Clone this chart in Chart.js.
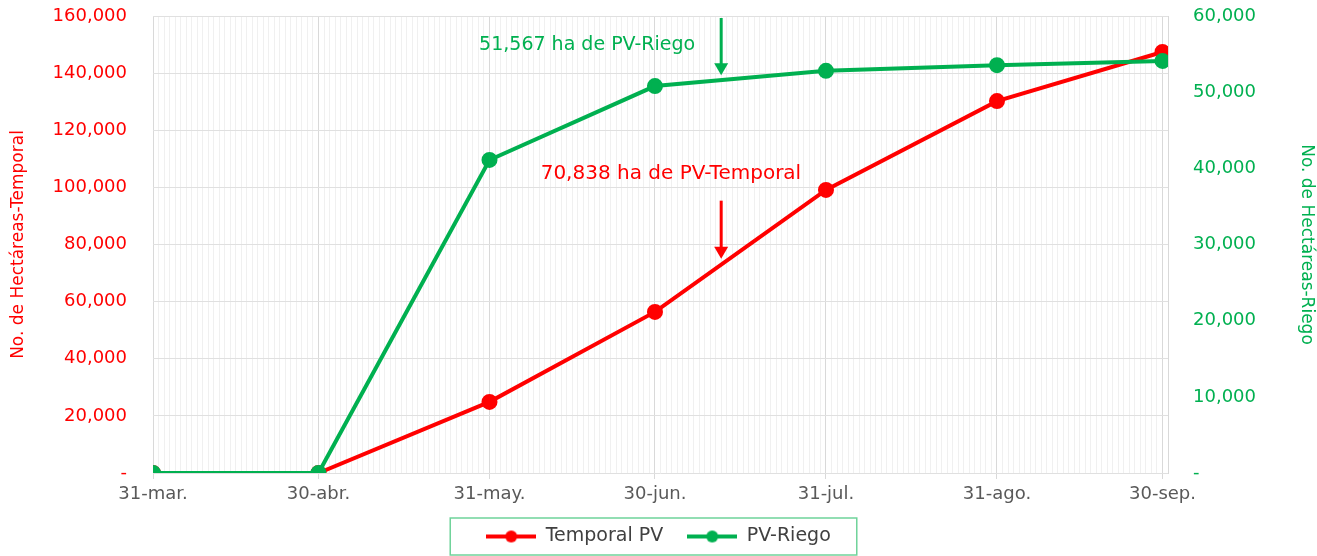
<!DOCTYPE html>
<html>
<head>
<meta charset="utf-8">
<script src="https://cdn.jsdelivr.net/npm/chart.js@4"></script>
<style>
  html, body { margin: 0; padding: 0; background: #fff; }
  #wrap { width: 1317px; height: 556px; }
</style>
</head>
<body>
<div id="wrap"><canvas id="chart"></canvas></div>
<script>
// fechas de corte (dias desde 31-mar)
var categories = ['31-mar.', '30-abr.', '31-may.', '30-jun.', '31-jul.', '31-ago.', '30-sep.'];
var categoryDays = [0, 30, 61, 91, 122, 153, 183];
var temporalPV = [0, 0, 24900, 56400, 99100, 130200, 147400];
var pvRiego = [0, 0, 41100, 50800, 52800, 53550, 54100];
var leftTicks = [0, 20000, 40000, 60000, 80000, 100000, 120000, 140000, 160000];
var rightTicks = [0, 10000, 20000, 30000, 40000, 50000, 60000];
var lastDay = 184;

// anotaciones: texto, dia, valor
var noteRiego = { text: '51,567 ha de PV-Riego', day: 103, value: 51567 };
var noteTemporal = { text: '70,838 ha de PV-Temporal', day: 103, value: 70838 };

var RED = '#ff0000';
var GREEN = '#00b050';
var FONT = "'DejaVu Sans', sans-serif";

function fmt(v) {
    return v === 0 ? '-' : v.toLocaleString('en-US');
}

function markerImage(color) {
    var c = document.createElement('canvas');
    c.width = 50; c.height = 14;
    var g = c.getContext('2d');
    g.strokeStyle = color; g.lineWidth = 4;
    g.beginPath(); g.moveTo(0, 7); g.lineTo(50, 7); g.stroke();
    g.fillStyle = color;
    g.beginPath(); g.arc(25, 7, 6, 0, Math.PI * 2); g.fill();
    return c;
}

function arrowDown(ctx, x, y0, y1, color) {
    ctx.save();
    ctx.strokeStyle = color; ctx.fillStyle = color; ctx.lineWidth = 3;
    ctx.beginPath(); ctx.moveTo(x, y0); ctx.lineTo(x, y1 - 10); ctx.stroke();
    ctx.beginPath(); ctx.moveTo(x - 7, y1 - 12); ctx.lineTo(x + 7, y1 - 12); ctx.lineTo(x, y1); ctx.closePath(); ctx.fill();
    ctx.restore();
}

var notesPlugin = {
    id: 'notes',
    afterDatasetsDraw: function(chart) {
        var ctx = chart.ctx, x = chart.scales.x;
        ctx.save();
        ctx.textBaseline = 'middle';
        ctx.textAlign = 'right';

        var gx = x.getPixelForValue(noteRiego.day);
        var gy = chart.scales.y1.getPixelForValue(noteRiego.value) - 5;
        arrowDown(ctx, gx, chart.chartArea.top + 2, gy, GREEN);
        ctx.font = '19px ' + FONT;
        ctx.fillStyle = GREEN;
        ctx.fillText(noteRiego.text, gx - 26, gy - 30);

        var rx = x.getPixelForValue(noteTemporal.day);
        var ry = chart.scales.y.getPixelForValue(noteTemporal.value) - 12;
        arrowDown(ctx, rx, ry - 58, ry, RED);
        ctx.font = '20px ' + FONT;
        ctx.fillStyle = RED;
        ctx.fillText(noteTemporal.text, rx + 80, ry - 85);
        ctx.restore();
    },
    afterDraw: function(chart) {
        var boxes = chart.legend.legendHitBoxes;
        if (!boxes || !boxes.length) return;
        var l = Math.min.apply(null, boxes.map(function(b) { return b.left; }));
        var r = Math.max.apply(null, boxes.map(function(b) { return b.left + b.width; }));
        var t = Math.min.apply(null, boxes.map(function(b) { return b.top; }));
        var b = Math.max.apply(null, boxes.map(function(b) { return b.top + b.height; }));
        var ctx = chart.ctx;
        ctx.save();
        ctx.strokeStyle = '#6fd39a'; ctx.lineWidth = 1.5;
        ctx.strokeRect(l - 36, t - 9, (r - l) + 62, (b - t) + 18);
        ctx.restore();
    }
};

var isMajor = function(v) { return categoryDays.indexOf(v) !== -1; };

new Chart(document.getElementById('chart').getContext('2d'), {
    type: 'line',
    data: {
        datasets: [{
            label: 'Temporal PV',
            data: categoryDays.map(function(d, i) { return { x: d, y: temporalPV[i] }; }),
            borderColor: RED,
            backgroundColor: RED,
            borderWidth: 4,
            pointRadius: 6,
            pointHoverRadius: 6,
            yAxisID: 'y',
            order: 2
        }, {
            label: 'PV-Riego',
            data: categoryDays.map(function(d, i) { return { x: d, y: pvRiego[i] }; }),
            borderColor: GREEN,
            backgroundColor: GREEN,
            borderWidth: 4,
            pointRadius: 6,
            pointHoverRadius: 6,
            yAxisID: 'y1',
            order: 1
        }]
    },
    options: {
        responsive: true,
        maintainAspectRatio: false,
        animation: false,
        layout: { padding: { top: 16, bottom: 0 } },
        plugins: {
            tooltip: { enabled: false },
            legend: {
                position: 'bottom',
                labels: {
                    font: { family: FONT, size: 19 },
                    color: '#404040',
                    usePointStyle: true,
                    pointStyleWidth: 50,
                    padding: 24,
                    generateLabels: function(chart) {
                        return chart.data.datasets.map(function(ds, i) {
                            return {
                                text: ds.label,
                                datasetIndex: i,
                                pointStyle: markerImage(ds.borderColor),
                                fillStyle: ds.borderColor,
                                strokeStyle: ds.borderColor,
                                fontColor: '#404040',
                                lineWidth: 0
                            };
                        });
                    }
                }
            }
        },
        scales: {
            x: {
                type: 'linear',
                min: 0,
                max: lastDay,
                afterBuildTicks: function(scale) {
                    var t = [];
                    for (var d = 0; d <= lastDay; d++) t.push({ value: d });
                    scale.ticks = t;
                },
                ticks: {
                    autoSkip: false,
                    maxRotation: 0,
                    padding: 5,
                    color: '#595959',
                    font: { family: FONT, size: 18 },
                    callback: function(v) {
                        var i = categoryDays.indexOf(v);
                        return i === -1 ? '' : categories[i];
                    }
                },
                grid: {
                    color: function(c) { return isMajor(c.tick.value) ? '#d9d9d9' : '#f0f0f0'; },
                    tickColor: function(c) { return isMajor(c.tick.value) ? '#d9d9d9' : 'rgba(0,0,0,0)'; },
                    tickLength: 6,
                    lineWidth: 1
                },
                border: { display: false },
                afterFit: function(scale) { scale.height = 30; }
            },
            y: {
                position: 'left',
                min: 0,
                max: 160000,
                afterBuildTicks: function(scale) {
                    scale.ticks = leftTicks.map(function(v) { return { value: v }; });
                },
                ticks: {
                    color: RED,
                    padding: 2,
                    font: { family: FONT, size: 18 },
                    callback: function(v) { return fmt(v); }
                },
                grid: { color: '#e0e0e0', tickLength: 24, tickColor: 'rgba(0,0,0,0)' },
                border: { display: false },
                title: {
                    display: true,
                    text: 'No. de Hectáreas-Temporal',
                    color: RED,
                    font: { family: FONT, size: 17 },
                    padding: { top: 8, bottom: 0 }
                },
                afterFit: function(scale) { scale.width = 153; }
            },
            y1: {
                position: 'right',
                min: 0,
                max: 60000,
                afterBuildTicks: function(scale) {
                    scale.ticks = rightTicks.map(function(v) { return { value: v }; });
                },
                ticks: {
                    color: GREEN,
                    padding: 2,
                    font: { family: FONT, size: 18 },
                    callback: function(v) { return fmt(v); }
                },
                grid: { drawOnChartArea: false, tickLength: 23, tickColor: 'rgba(0,0,0,0)' },
                border: { display: true, color: '#d9d9d9' },
                title: {
                    display: true,
                    text: 'No. de Hectáreas-Riego',
                    color: GREEN,
                    font: { family: FONT, size: 17 },
                    padding: { top: 0, bottom: 12 }
                },
                afterFit: function(scale) { scale.width = 149; }
            }
        }
    },
    plugins: [notesPlugin]
});
</script>
</body>
</html>
